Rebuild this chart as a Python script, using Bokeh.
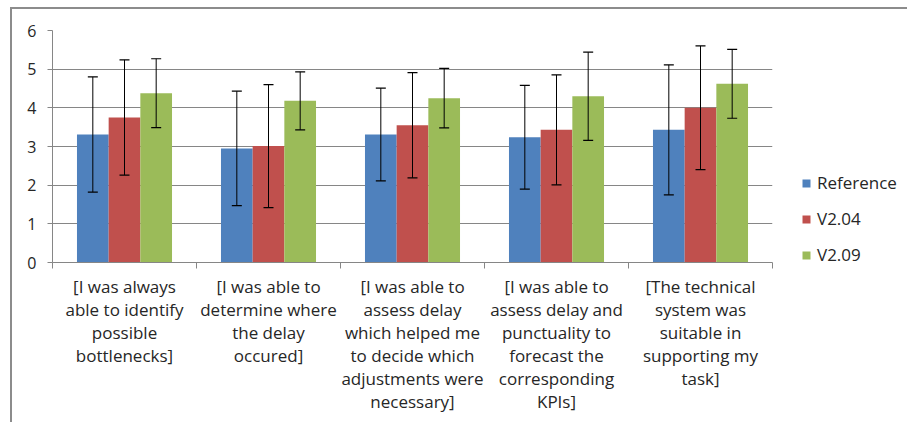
from bokeh.plotting import figure
from bokeh.models import ColumnDataSource, Legend, LegendItem, FixedTicker, Range1d
from bokeh.embed import file_html
from bokeh.resources import INLINE

categories = [
    "[I was always\nable to identify\npossible\nbottlenecks]",
    "[I was able to\ndetermine where\nthe delay\noccured]",
    "[I was able to\nassess delay\nwhich helped me\nto decide which\nadjustments were\nnecessary]",
    "[I was able to\nassess delay and\npunctuality to\nforecast the\ncorresponding\nKPIs]",
    "[The technical\nsystem was\nsuitable in\nsupporting my\ntask]",
]
series_names = ["Reference", "V2.04", "V2.09"]
reference_mean = [3.31, 2.95, 3.31, 3.24, 3.43]
reference_sd = [1.49, 1.48, 1.20, 1.34, 1.68]
v204_mean = [3.75, 3.01, 3.55, 3.43, 4.00]
v204_sd = [1.49, 1.59, 1.36, 1.42, 1.60]
v209_mean = [4.38, 4.18, 4.25, 4.30, 4.62]
v209_sd = [0.89, 0.75, 0.77, 1.14, 0.89]
colors = ["#4F81BD", "#C0504D", "#9BBB59"]
y_ticks = [0, 1, 2, 3, 4, 5, 6]

FONT = "Open Sans"
TXT = "#262626"
GRAY = "#868686"

p = figure(frame_width=720, frame_height=232, output_backend="svg", toolbar_location=None,
           x_range=Range1d(0, len(categories)), y_range=Range1d(0, 6))
p.min_border_left = 40
p.min_border_right = 135
p.min_border_top = 21
p.min_border_bottom = 160
p.outline_line_color = None
p.background_fill_color = "white"
p.border_fill_color = "white"
p.styles = {"margin-left": "10px", "margin-top": "7px",
            "border-left": "2px solid #8c8c8c", "border-top": "2px solid #8c8c8c"}

means = [reference_mean, v204_mean, v209_mean]
sds = [reference_sd, v204_sd, v209_sd]
bar_w = 0.22
offsets = [-bar_w, 0.0, bar_w]
items = []
for k in range(3):
    xs = [i + 0.5 + offsets[k] for i in range(len(categories))]
    src = ColumnDataSource(dict(x=xs, top=means[k],
                                upper=[m + s for m, s in zip(means[k], sds[k])],
                                lower=[m - s for m, s in zip(means[k], sds[k])]))
    r = p.vbar(x="x", top="top", bottom=0, width=bar_w, source=src,
               fill_color=colors[k], line_color=None)
    items.append(LegendItem(label=series_names[k], renderers=[r]))
    p.segment(x0="x", y0="lower", x1="x", y1="upper", source=src,
              line_color="black", line_width=1)
    p.scatter(x="x", y="upper", source=src, marker="dash", size=10,
              line_color="black", line_width=1.2)
    p.scatter(x="x", y="lower", source=src, marker="dash", size=10,
              line_color="black", line_width=1.2)

# axes
p.xaxis.ticker = FixedTicker(ticks=[i + 0.5 for i in range(len(categories))],
                             minor_ticks=list(range(len(categories) + 1)))
p.xaxis.major_label_overrides = {i + 0.5: c for i, c in enumerate(categories)}
p.xaxis.major_tick_line_color = None
p.xaxis.major_tick_out = 6
p.xaxis.major_tick_in = 0
p.xaxis.minor_tick_line_color = GRAY
p.xaxis.minor_tick_out = 6
p.xaxis.minor_tick_in = 0
p.xaxis.axis_line_color = GRAY
p.xaxis.major_label_standoff = 6
p.xaxis.major_label_text_font = FONT
p.xaxis.major_label_text_font_size = "17px"
p.xaxis.major_label_text_color = TXT
p.xaxis.major_label_text_line_height = 1.0
p.xaxis.major_label_text_align = "center"

p.yaxis.ticker = FixedTicker(ticks=y_ticks)
p.yaxis.axis_line_color = GRAY
p.yaxis.major_tick_line_color = GRAY
p.yaxis.major_tick_out = 5
p.yaxis.major_tick_in = 0
p.yaxis.minor_tick_line_color = None
p.yaxis.major_label_standoff = 11
p.yaxis.major_label_text_font = FONT
p.yaxis.major_label_text_font_size = "16px"
p.yaxis.major_label_text_color = TXT

p.xgrid.grid_line_color = None
p.ygrid.grid_line_color = GRAY
p.ygrid.ticker = FixedTicker(ticks=y_ticks)

legend = Legend(items=items, location=(29, -4), orientation="vertical")
legend.glyph_width = 10
legend.glyph_height = 10
legend.label_height = 20
legend.spacing = 13
legend.padding = 0
legend.margin = 0
legend.border_line_color = None
legend.background_fill_alpha = 0
legend.label_text_font = FONT
legend.label_text_font_size = "17px"
legend.label_text_color = TXT
legend.label_standoff = 6
p.add_layout(legend, "right")

open("out.html", "w").write(file_html(p, INLINE))
